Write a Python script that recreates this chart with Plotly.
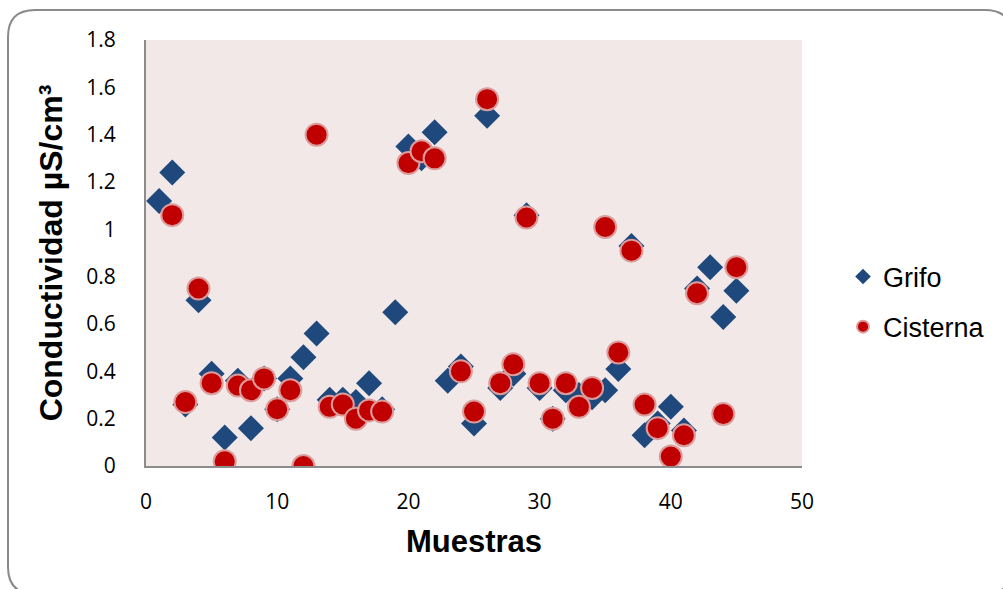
import plotly.graph_objects as go

# Sample numbers (1..45)
muestras = list(range(1, 46))

# Conductivity of tap-water samples (Grifo)
grifo = [1.12, 1.24, 0.26, 0.70, 0.39, 0.12, 0.36, 0.16, 0.37, 0.24,
         0.37, 0.46, 0.56, 0.28, 0.28, 0.27, 0.35, 0.24, 0.65, 1.35,
         1.30, 1.41, 0.36, 0.42, 0.18, 1.48, 0.33, 0.39, 1.06, 0.33,
         0.20, 0.32, 0.30, 0.29, 0.32, 0.41, 0.93, 0.13, 0.18, 0.25,
         0.15, 0.75, 0.84, 0.63, 0.74]

# Conductivity of cistern samples (Cisterna); None where no reading
cisterna = [None, 1.06, 0.27, 0.75, 0.35, 0.02, 0.34, 0.32, 0.37, 0.24,
            0.32, 0.00, 1.40, 0.25, 0.26, 0.20, 0.235, 0.23, None, 1.28,
            1.33, 1.30, None, 0.40, 0.23, 1.55, 0.35, 0.43, 1.05, 0.35,
            0.20, 0.35, 0.25, 0.33, 1.01, 0.48, 0.91, 0.26, 0.16, 0.04,
            0.13, 0.73, None, 0.22, 0.84]

y_tick_vals = [0, 0.2, 0.4, 0.6, 0.8, 1, 1.2, 1.4, 1.6, 1.8]
y_tick_text = ["0", "0.2", "0.4", "0.6", "0.8", "1", "1.2", "1.4", "1.6", "1.8"]
x_tick_vals = [0, 10, 20, 30, 40, 50]

W, H = 1003, 589
ML, MR, MT, MB = 146, 201, 40, 123
PW, PH = W - ML - MR, H - MT - MB


def px(x):
    return (x - ML) / PW


def py(y):
    return (H - MB - y) / PH


def rounded_frame(x0, y0, x1, y1, r):
    pts = [
        f"M {px(x0 + r)},{py(y0)}",
        f"L {px(x1 - r)},{py(y0)}",
        f"Q {px(x1)},{py(y0)} {px(x1)},{py(y0 + r)}",
        f"L {px(x1)},{py(y1 - r)}",
        f"Q {px(x1)},{py(y1)} {px(x1 - r)},{py(y1)}",
        f"L {px(x0 + r)},{py(y1)}",
        f"Q {px(x0)},{py(y1)} {px(x0)},{py(y1 - r)}",
        f"L {px(x0)},{py(y0 + r)}",
        f"Q {px(x0)},{py(y0)} {px(x0 + r)},{py(y0)}",
        "Z",
    ]
    return " ".join(pts)


fig = go.Figure()

fig.add_trace(go.Scatter(
    x=muestras, y=grifo, mode="markers", name="Grifo",
    legendgroup="g1",
    marker=dict(symbol="diamond", size=20, color="#1F497D",
                line=dict(width=0)),
))

fig.add_trace(go.Scatter(
    x=muestras, y=cisterna, mode="markers", name="Cisterna",
    legendgroup="g2",
    marker=dict(symbol="circle", size=22, color="#C00000",
                line=dict(width=2, color="#DB9C9B")),
))

tick_font = dict(family="Open Sans, sans-serif", size=21, color="#000000")
x_title_font = dict(family="Liberation Sans, Arial, sans-serif", size=31,
                    color="#000000", weight="bold")
y_title_font = dict(family="Liberation Sans, Arial, sans-serif", size=32,
                    color="#000000", weight="bold")

fig.update_layout(
    width=W, height=H,
    margin=dict(l=ML, r=MR, t=MT, b=MB, pad=0),
    paper_bgcolor="#FFFFFF",
    plot_bgcolor="#F2E8E8",
    showlegend=True,
    legend=dict(
        x=px(843), xanchor="left",
        y=py(302), yanchor="middle",
        font=dict(family="Liberation Sans, Arial, sans-serif", size=27,
                  color="#000000"),
        itemsizing="constant",
        itemwidth=30,
        traceorder="grouped",
        tracegroupgap=12,
        bgcolor="rgba(0,0,0,0)",
    ),
    xaxis=dict(
        range=[0, 50], tickvals=x_tick_vals,
        showgrid=False, zeroline=False,
        showline=True, linecolor="#8C8C8C", linewidth=2,
        ticks="", tickfont=tick_font, ticklabelstandoff=16,
        title=dict(text="Muestras", font=x_title_font, standoff=16),
    ),
    yaxis=dict(
        range=[0, 1.8], tickvals=y_tick_vals, ticktext=y_tick_text,
        showgrid=False, zeroline=False,
        showline=True, linecolor="#8C8C8C", linewidth=2,
        ticks="", tickfont=tick_font, ticklabelstandoff=24,
        title=dict(text="Conductividad µS/cm³", font=y_title_font, standoff=14),
    ),
    shapes=[dict(
        type="path", xref="paper", yref="paper",
        path=rounded_frame(8, 10, 1012, 594, 27),
        line=dict(color="#8A8A8A", width=2),
        fillcolor="rgba(0,0,0,0)", layer="below",
    )],
)

fig.write_html("out.html")
